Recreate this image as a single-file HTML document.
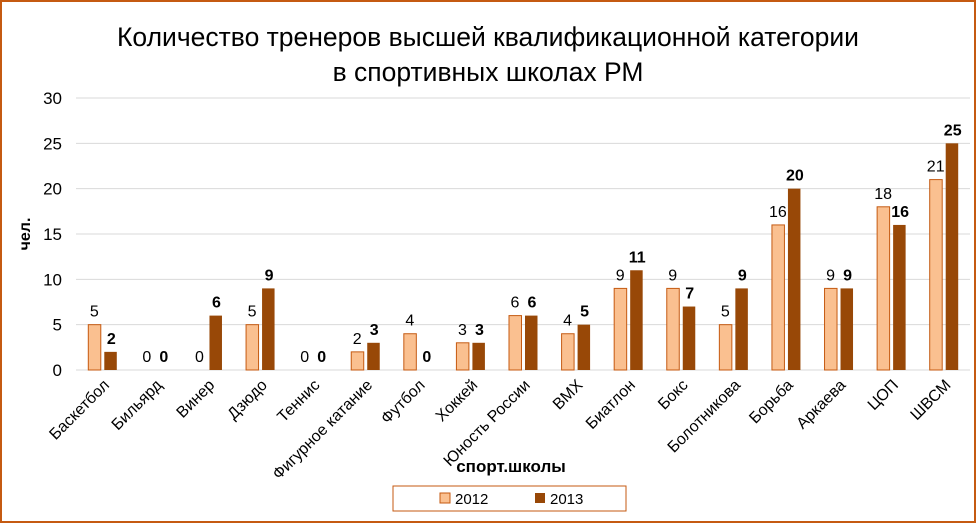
<!DOCTYPE html>
<html><head><meta charset="utf-8"><style>
body{margin:0;background:#fff;}
svg{display:block;font-family:"Liberation Sans",sans-serif;}
</style></head><body>
<svg id="c" width="976" height="523">
<rect x="1" y="1" width="974" height="521" fill="#fff" stroke="#C55A11" stroke-width="2"/>
<text x="488" y="46" font-size="26.5" text-anchor="middle" fill="#000">Количество тренеров высшей квалификационной категории</text>
<text x="488" y="81" font-size="26.5" text-anchor="middle" fill="#000">в спортивных школах РМ</text>
<g id="grid"></g><g id="bars"></g><g id="labels"></g>
<text transform="translate(30,234) rotate(-90)" font-size="16" font-weight="bold" text-anchor="middle">чел.</text>
<text x="511" y="472" font-size="17" font-weight="bold" text-anchor="middle">спорт.школы</text>
<g>
<rect x="393" y="486" width="233" height="25" fill="#fff" stroke="#C55A11" stroke-width="1"/>
<rect x="440" y="493" width="10" height="10" fill="#FAC090" stroke="#C55A11"/>
<text x="455" y="504" font-size="15">2012</text>
<rect x="535" y="493" width="10" height="10" fill="#984807"/>
<text x="550" y="504" font-size="15">2013</text>
</g>
</svg>
<script>
const categories=["Баскетбол","Бильярд","Винер","Дзюдо","Теннис","Фигурное катание","Футбол","Хоккей","Юность России","ВМХ","Биатлон","Бокс","Болотникова","Борьба","Аркаева","ЦОП","ШВСМ"];
const values2012=[5,0,0,5,0,2,4,3,6,4,9,9,5,16,9,18,21];
const values2013=[2,0,6,9,0,3,0,3,6,5,11,7,9,20,9,16,25];
const yTicks=[0,5,10,15,20,25,30];
const NS="http://www.w3.org/2000/svg";
const x0=76,x1=970,yb=370,yt=98,ymax=30;
const bw=(x1-x0)/categories.length;
const y=v=>yb-(v/ymax)*(yb-yt);
const cx=i=>x0+bw*(i+0.5);
function mk(t,a,p){const e=document.createElementNS(NS,t);for(const k in a)e.setAttribute(k,a[k]);(p||document.getElementById('c')).appendChild(e);return e;}
const G=document.getElementById('grid'),B=document.getElementById('bars'),L=document.getElementById('labels');
yTicks.forEach(v=>{
 const l=mk('line',{x1:x0,x2:x1,y1:y(v),y2:y(v),stroke:'#d9d9d9','stroke-width':1},G);
 
 
 const t=mk('text',{x:x0-14,y:y(v)+6,'font-size':17,'text-anchor':'end',fill:'#000'},G);t.textContent=v;
 
 
});
categories.forEach((c,i)=>{
 const a=values2012[i],b=values2013[i],c0=cx(i);
 const r1=mk('rect',{x:c0-14,y:y(a),width:12.5,height:yb-y(a),fill:'#FAC090',stroke:'#C55A11','stroke-width':1},B);
 
 
 const r2=mk('rect',{x:c0+2,y:y(b),width:12.5,height:yb-y(b),fill:'#984807'},B);
 
 
 const t1=mk('text',{x:c0-8,y:y(a)-8,'font-size':16,'text-anchor':'middle'},L);t1.textContent=a;
 
 
 const t2=mk('text',{x:c0+9,y:y(b)-8,'font-size':16,'font-weight':'bold','text-anchor':'middle'},L);t2.textContent=b;
 
 
 const ct=mk('text',{transform:`translate(${c0+8},386) rotate(-45)`,'font-size':16,'text-anchor':'end'},L);ct.textContent=c;
 
 
});
</script>
</body></html>
